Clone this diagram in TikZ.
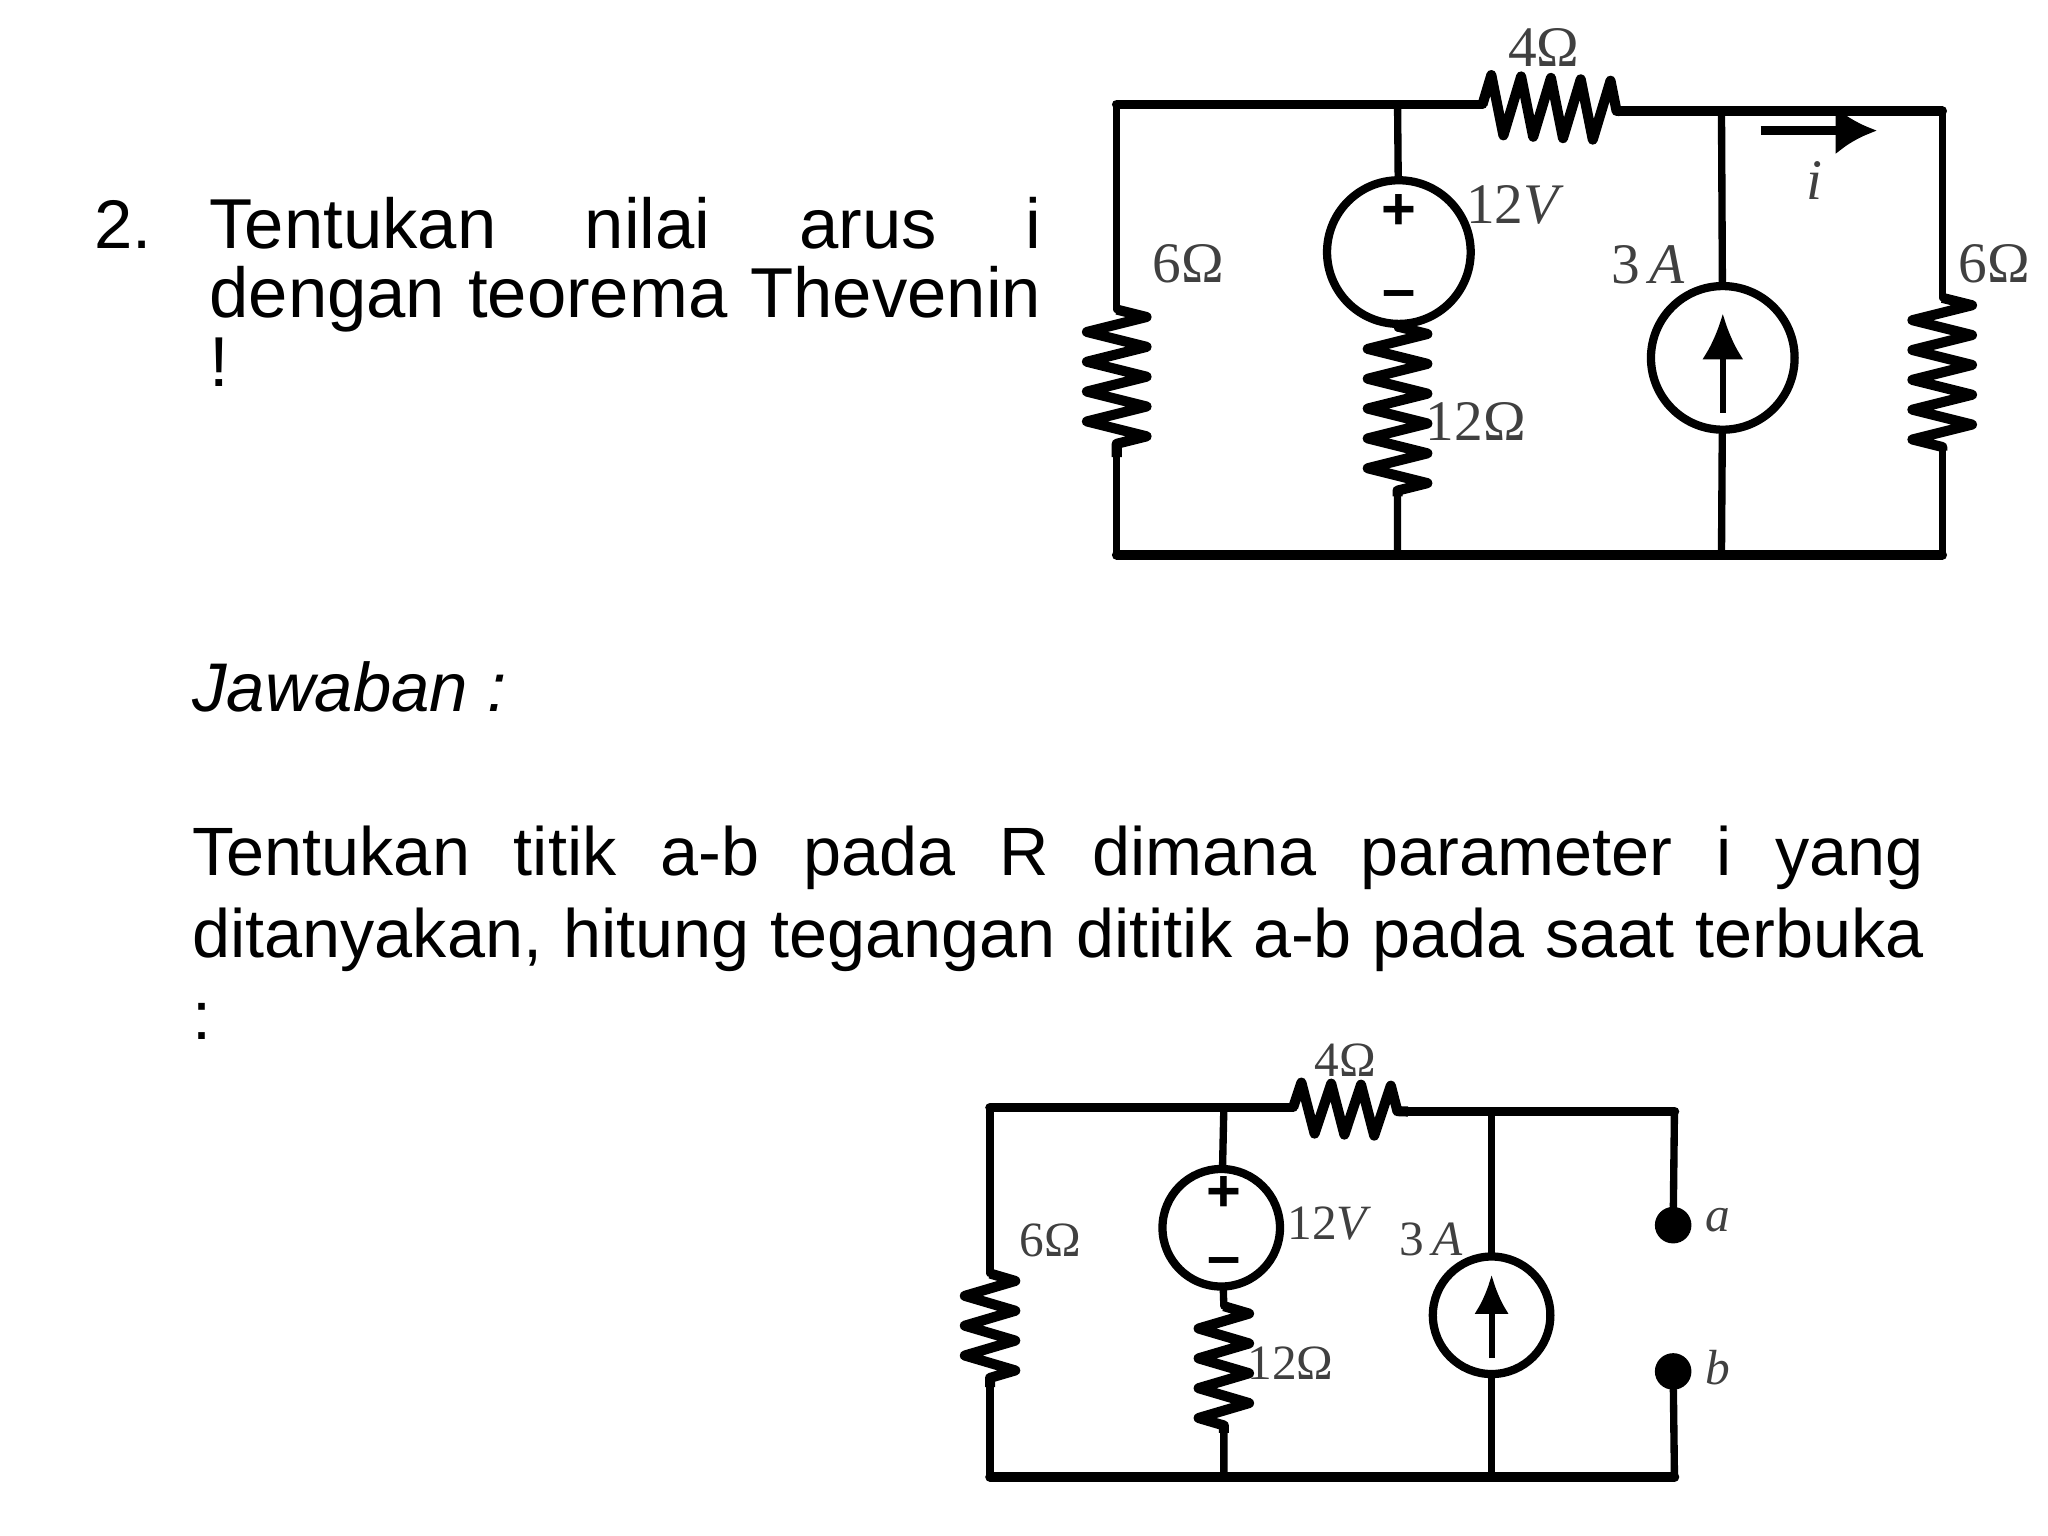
\documentclass[tikz,border=0pt]{standalone}
\usepackage{fontspec}
\setmainfont{Liberation Sans}
\newfontfamily\valfont{Liberation Serif}
\usetikzlibrary{arrows.meta,decorations.pathmorphing}

\tikzset{
  wire/.style={line width=3.2pt, line cap=round},
  rail/.style={line width=4.2pt, line cap=round},
  res/.style={line width=4.4pt, line join=round, decorate,
    decoration={zigzag, amplitude=#1, segment length=13pt}},
  res/.default=13pt,
  src/.style={circle, draw, line width=3.6pt, minimum size=2.2cm, inner sep=0pt},
  srcsmall/.style={circle, draw, line width=3.6pt, minimum size=1.8cm, inner sep=0pt},
  val/.style={font=\valfont\fontsize{25}{25}\selectfont, text=black!75, inner sep=0pt},
  valsmall/.style={font=\valfont\fontsize{21.5}{22}\selectfont, text=black!75, inner sep=0pt},
  sign/.style={font=\bfseries\fontsize{26}{26}\selectfont, inner sep=0pt},
  body/.style={font=\fontsize{30}{30}\selectfont, anchor=north west, inner sep=0pt, align=justify},
  pin/.style={circle, fill=black, minimum size=0.56cm, inner sep=0pt}
}

\begin{document}
\begin{tikzpicture}[x=0.02cm, y=-0.02cm]
\useasboundingbox (0,0) rectangle (1568,1176);

% Question and answer text
\node[body, anchor=base west] (num) at (72,190) {2.};
\node[body, text width=12.74cm, font=\fontsize{30.8}{30}\selectfont] (ask) at (160,151)
  {Tentukan nilai arus i\linebreak dengan teorema Thevenin\linebreak !};
\node[body, anchor=base west] (jaw) at (147,545) {\itshape Jawaban :};
\node[body, text width=26.52cm, font=\fontsize{29.8}{35.7}\selectfont] (tek) at (147,632)
  {Tentukan titik a-b pada R dimana parameter i yang\linebreak ditanyakan, hitung tegangan dititik a-b pada saat terbuka\linebreak :};

% Upper circuit: junctions
\coordinate (tl) at (855,80);
\coordinate (tm) at (1070,80);
\coordinate (ra) at (1135,80);
\coordinate (rb) at (1240,85);
\coordinate (ts) at (1318,85);
\coordinate (tr) at (1487,85);
\coordinate (bl) at (855,425);
\coordinate (bm) at (1070,425);
\coordinate (bs) at (1318,425);
\coordinate (br) at (1487,425);
\coordinate (la) at (855,237);
\coordinate (lb) at (855,350);
\coordinate (ma) at (1070,250);
\coordinate (mb) at (1070,380);
\coordinate (qa) at (1487,228);
\coordinate (qb) at (1487,345);
\coordinate (ia) at (1348,100);
\coordinate (ib) at (1437,100);
\node[src] (vs) at (1071,193) {};
\node[src] (cs) at (1319,274) {};
\coordinate (ca) at (1319,316);
\coordinate (cb) at (1319,240);

% Upper circuit: wires and resistors
\draw[rail] (tm) -- (tl);
\draw[wire] (tl) -- (la) (lb) -- (bl);
\draw[rail] (tm) -- (ra);
\draw[res] (ra) -- (rb);
\draw[rail] (rb) -- (tr);
\draw[wire] (tr) -- (qa) (qb) -- (br);
\draw[rail] (bl) -- (br);
\draw[wire] (tm) -- (vs) (vs) -- (ma) (mb) -- (bm);
\draw[wire] (ts) -- (cs) (cs) -- (bs);
\draw[res] (la) -- (lb);
\draw[res] (ma) -- (mb);
\draw[res] (qa) -- (qb);
\draw[line width=2.8pt, -{Latex[length=20pt,width=18pt]}] (ca) -- (cb);
\draw[line width=3.6pt, -{Latex[length=18pt,width=21pt]}] (ia) -- (ib);

% Upper circuit: labels
\node[sign] (vp) at (1071,162) {+};
\node[sign] (vm) at (1071,230) {--};
\node[val] (l4) at (1182,36) {4Ω};
\node[val] (l6) at (910,202) {6Ω};
\node[val] (l12v) at (1160,157) {12\textit{V}};
\node[val] (l3a) at (1262,203) {3\,\textit{A}};
\node[val] (l12) at (1130,323) {12Ω};
\node[val] (lq) at (1527,202) {6Ω};
\node[val] (li) at (1389,138) {\textit{i}};

% Lower circuit: junctions
\coordinate (Tl) at (758,848);
\coordinate (Tm) at (937,848);
\coordinate (Ra) at (990,848);
\coordinate (Rb) at (1078,851);
\coordinate (Ts) at (1142,851);
\coordinate (Tr) at (1282,851);
\coordinate (Bl) at (758,1131);
\coordinate (Bm) at (937,1131);
\coordinate (Bs) at (1142,1131);
\coordinate (Br) at (1282,1131);
\coordinate (La) at (758,975);
\coordinate (Lb) at (758,1062);
\coordinate (Ma) at (937,1000);
\coordinate (Mb) at (937,1097);
\node[srcsmall] (Vs) at (935,940) {};
\node[srcsmall] (Cs) at (1142,1007) {};
\node[pin] (pa) at (1281,938) {};
\node[pin] (pb) at (1281,1050) {};
\coordinate (Ca) at (1142,1040);
\coordinate (Cb) at (1142,976);

% Lower circuit: wires and resistors
\draw[rail] (Tm) -- (Tl);
\draw[wire] (Tl) -- (La) (Lb) -- (Bl);
\draw[rail] (Tm) -- (Ra);
\draw[res=11pt] (Ra) -- (Rb);
\draw[rail] (Rb) -- (Tr);
\draw[wire] (Tr) -- (pa) (pb) -- (Br);
\draw[rail] (Bl) -- (Br);
\draw[wire] (Tm) -- (Vs) (Vs) -- (Ma) (Mb) -- (Bm);
\draw[wire] (Ts) -- (Cs) (Cs) -- (Bs);
\draw[res=11pt] (La) -- (Lb);
\draw[res=11pt] (Ma) -- (Mb);
\draw[line width=2.6pt, -{Latex[length=17pt,width=15pt]}] (Ca) -- (Cb);

% Lower circuit: labels
\node[sign] (Vp) at (937,914) {+};
\node[sign] (Vm) at (937,970) {--};
\node[valsmall] (L4) at (1030,812) {4Ω};
\node[valsmall] (L6) at (804,950) {6Ω};
\node[valsmall] (L12v) at (1018,937) {12\textit{V}};
\node[valsmall] (L3a) at (1096,949) {3\,\textit{A}};
\node[valsmall] (L12) at (988,1044) {12Ω};
\node[valsmall] (La2) at (1315,934) {\textit{a}};
\node[valsmall] (Lb2) at (1315,1047) {\textit{b}};
\end{tikzpicture}
\end{document}
